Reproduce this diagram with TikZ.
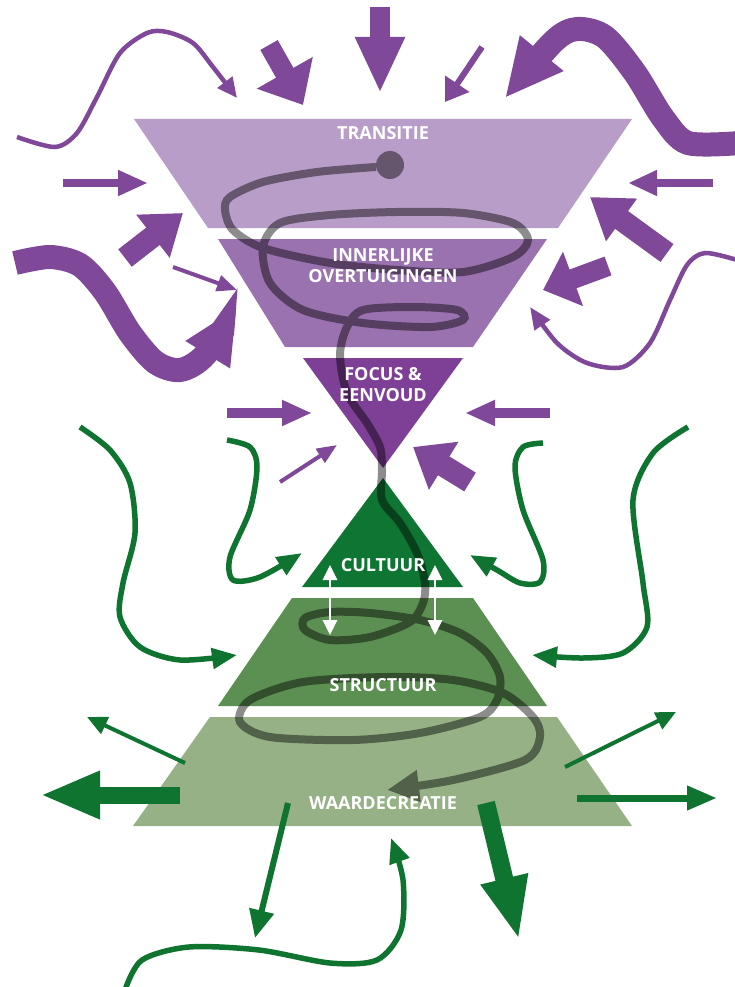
\documentclass[tikz,border=0pt]{standalone}
\usepackage{fontspec}
\setmainfont{Open Sans}
\usetikzlibrary{arrows.meta}
\definecolor{ptrans}{RGB}{184,157,201}
\definecolor{pinner}{RGB}{155,114,176}
\definecolor{pfocus}{RGB}{126,63,151}
\definecolor{parrow}{RGB}{127,72,152}
\definecolor{gcult}{RGB}{15,117,50}
\definecolor{gstruct}{RGB}{92,143,82}
\definecolor{gwaarde}{RGB}{150,177,134}
\definecolor{garrow}{RGB}{14,116,48}
\tikzset{
  arw/.style n args={4}{draw=#1, line width=#2, -{Triangle[length=#3, width=#4]}},
  lbl/.style={text=white, font=\bfseries\fontsize{18}{21}\selectfont, align=center, inner sep=0pt},
  spiral/.style={draw=black, line width=8},
  whitearr/.style={draw=white, line width=2.8, {Triangle[length=15pt,width=14pt]}-{Triangle[length=15pt,width=14pt]}}
}
\begin{document}
\begin{tikzpicture}[x=1pt,y=-1pt]
\useasboundingbox (0,0) rectangle (735,987);
\fill[white] (0,0) rectangle (735,987);

% layers
\fill[ptrans] (134,119) -- (632,119) -- (558,228) -- (208,228) -- cycle;
\fill[pinner] (218,239) -- (547,239) -- (473,347) -- (285,347) -- cycle;
\fill[pfocus] (303,358) -- (463,358) -- (383,468) -- cycle;
\fill[gcult] (383,478) -- (463,587) -- (302,587) -- cycle;
\fill[gstruct] (292,598) -- (473,598) -- (547,706) -- (218,706) -- cycle;
\fill[gwaarde] (210,717) -- (557,717) -- (632,826) -- (133,826) -- cycle;

% purple arrows
\draw[arw={parrow}{4.5}{20pt}{18pt}] plot[smooth] coordinates {(17,137) (55,147) (77,133) (97,97) (120,53) (147,33) (167,32) (193,43) (213,67) (237,98)};
\draw[arw={parrow}{20}{37pt}{62pt}] (269,45) -- (303,105);
\draw[arw={parrow}{20}{56pt}{46pt}] (380,7) -- (380,93);
\draw[arw={parrow}{6}{22pt}{28pt}] (482,47) -- (445,102);
\draw[arw={parrow}{24}{58pt}{52pt}] plot[smooth] coordinates {(740,143) (688,143) (663,118) (635,73) (605,37) (577,29) (553,42) (505,98)};
\draw[arw={parrow}{8}{29pt}{24pt}] (713,183) -- (628,183);
\draw[arw={parrow}{22}{39pt}{50pt}] (667,253) -- (590,197);
\draw[arw={parrow}{20}{32pt}{56pt}] (608,266) -- (543,290);
\draw[arw={parrow}{4.5}{22pt}{18pt}] plot[smooth] coordinates {(737,260) (705,253) (687,265) (670,300) (650,343) (623,367) (587,363) (557,343) (530,307)};
\draw[arw={parrow}{8}{30pt}{24pt}] (63,183) -- (148,183);
\draw[arw={parrow}{22}{38pt}{52pt}] (125,258) -- (183,213);
\draw[arw={parrow}{4}{20pt}{16pt}] (173,267) -- (237,290);
\draw[arw={parrow}{24}{56pt}{48pt}] plot[smooth] coordinates {(15,263) (50,257) (80,265) (105,292) (130,333) (155,362) (180,370) (205,355) (237,307)};
\draw[arw={parrow}{10}{30pt}{24pt}] (227,413) -- (312,413);
\draw[arw={parrow}{4}{20pt}{16pt}] (280,482) -- (337,445);
\draw[arw={parrow}{10}{30pt}{24pt}] (550,413) -- (465,413);
\draw[arw={parrow}{22}{36pt}{54pt}] (470,482) -- (413,447);

% green arrows
\draw[arw={garrow}{5.5}{25pt}{20pt}] plot[smooth] coordinates {(80,427) (110,450) (130,483) (135,533) (123,583) (120,617) (140,647) (180,660) (237,655)};
\draw[arw={garrow}{5.5}{25pt}{20pt}] plot[smooth] coordinates {(227,440) (250,447) (257,467) (250,510) (230,557) (233,580) (260,577) (302,553)};
\draw[arw={garrow}{5.5}{25pt}{20pt}] plot[smooth] coordinates {(543,443) (523,447) (515,467) (523,510) (543,560) (540,582) (520,583) (497,570) (470,555)};
\draw[arw={garrow}{5.5}{25pt}{20pt}] plot[smooth] coordinates {(688,427) (653,453) (633,500) (643,583) (647,627) (623,653) (583,658) (532,655)};
\draw[arw={garrow}{4}{20pt}{18pt}] (185,763) -- (87,717);
\draw[arw={garrow}{17}{60pt}{44pt}] (180,795) -- (40,795);
\draw[arw={garrow}{4}{20pt}{18pt}] (565,767) -- (676,712);
\draw[arw={garrow}{7}{30pt}{23pt}] (577,798) -- (717,798);
\draw[arw={garrow}{6}{28pt}{24pt}] (288,803) -- (255,938);
\draw[arw={garrow}{18}{63pt}{44pt}] (486,803) -- (519,940);
\draw[arw={garrow}{5.5}{25pt}{20pt}] plot[smooth] coordinates {(125,990) (142,960) (189,947) (259,950) (330,963) (377,960) (401,930) (403,880) (391,838)};

% spiral
\begin{scope}[transparency group, opacity=0.45]
\fill[black] (390,165) circle (14);
\draw[spiral, -{Triangle[length=32pt,width=30pt]}] plot[smooth] coordinates {
 (376,167) (317,172) (263,182) (230,197) (225,210) (233,230) (263,248) (330,263) (397,270) (463,272) (513,257) (528,240) (513,223) (463,213) (397,212) (330,215) (280,223) (263,247) (270,283) (303,310) (363,323) (430,327) (463,320) (457,310) (413,307) (363,310) (347,327) (340,355) (347,393) (367,423) (380,447) (382,470) (382,500) (400,523) (417,553) (425,583) (423,603) (410,622) (370,637) (330,640) (305,630) (305,618) (330,612) (370,613) (420,620) (460,633) (487,653) (500,677) (497,700) (480,717) (420,733) (353,740) (270,737) (240,722) (250,700) (303,682) (387,677) (453,680) (503,693) (533,717) (540,737) (525,760) (453,780) (387,790)};
\end{scope}

% white double arrows
\draw[whitearr] (330,565) -- (330,635);
\draw[whitearr] (435,565) -- (435,635);

% labels
\node[lbl] (transitie) at (383,133) {TRANSITIE};
\node[lbl] (innerlijk) at (383,266) {INNERLIJKE\\OVERTUIGINGEN};
\node[lbl] (focus) at (383,385) {FOCUS \&\\EENVOUD};
\node[lbl] (cultuur) at (383,565) {CULTUUR};
\node[lbl] (structuur) at (383,685) {STRUCTUUR};
\node[lbl] (waarde) at (383,803) {WAARDECREATIE};
\end{tikzpicture}
\end{document}
